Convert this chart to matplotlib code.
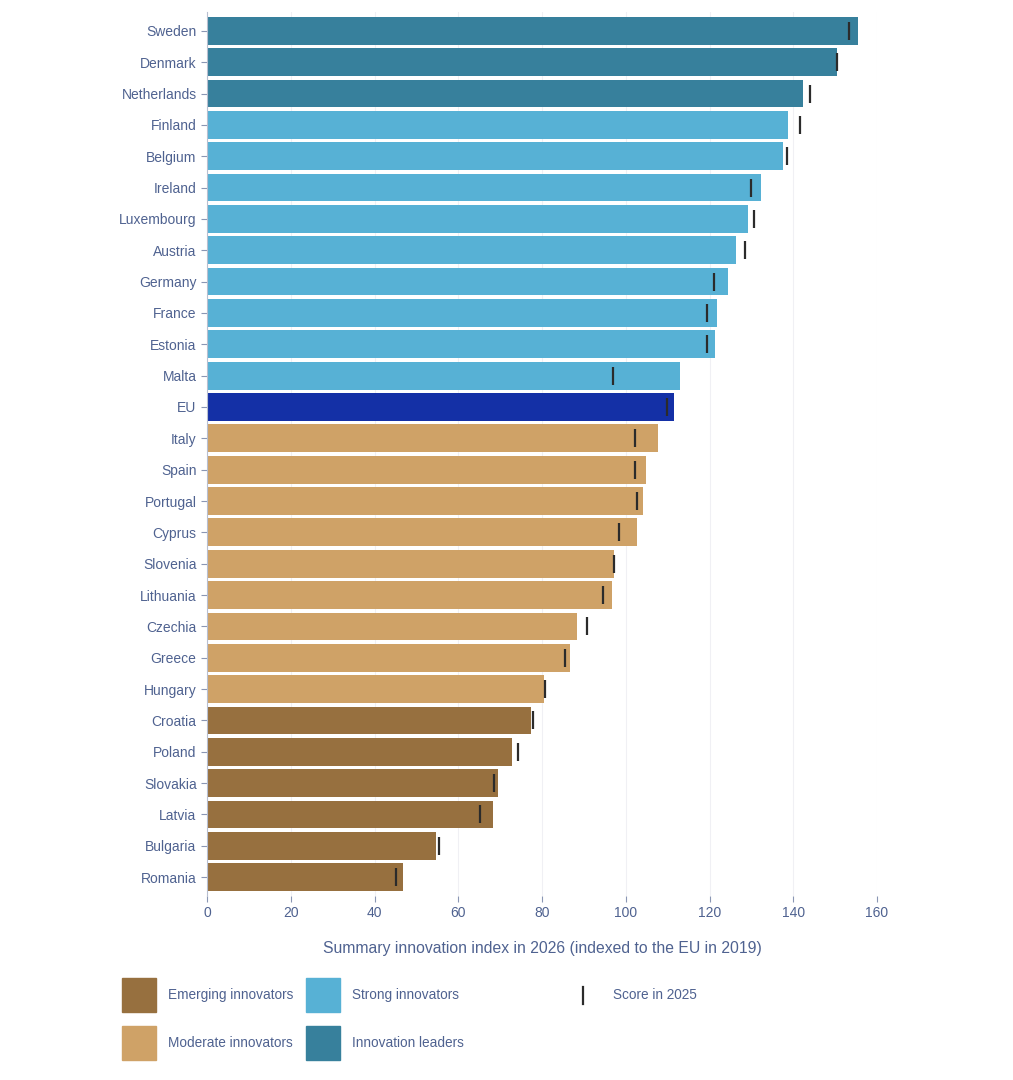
import matplotlib
matplotlib.use('Agg')
import matplotlib.pyplot as plt
from matplotlib.patches import Rectangle
from matplotlib.lines import Line2D

### DATA

countries = ['Sweden', 'Denmark', 'Netherlands', 'Finland', 'Belgium', 'Ireland', 'Luxembourg',
             'Austria', 'Germany', 'France', 'Estonia', 'Malta', 'EU', 'Italy', 'Spain', 'Portugal',
             'Cyprus', 'Slovenia', 'Lithuania', 'Czechia', 'Greece', 'Hungary', 'Croatia', 'Poland',
             'Slovakia', 'Latvia', 'Bulgaria', 'Romania']
score_2026 = [155.4, 150.4, 142.3, 138.8, 137.6, 132.4, 129.3, 126.3, 124.3, 121.8, 121.2, 112.9,
              111.6, 107.6, 104.9, 104.0, 102.8, 97.2, 96.7, 88.4, 86.6, 80.5, 77.4, 72.9,
              69.5, 68.2, 54.6, 46.7]
score_2025 = [153.2, 150.4, 143.9, 141.6, 138.5, 129.9, 130.7, 128.4, 121.1, 119.5, 119.3, 97.0,
              109.8, 102.3, 102.1, 102.6, 98.5, 97.2, 94.6, 90.7, 85.6, 80.7, 77.9, 74.3,
              68.5, 65.2, 55.5, 45.2]
groups = ['leader'] * 3 + ['strong'] * 9 + ['eu'] + ['moderate'] * 9 + ['emerging'] * 6

group_colors = {'leader': '#37809c', 'strong': '#57b1d5', 'eu': '#1430a6',
                'moderate': '#cfa267', 'emerging': '#97703f'}
legend_items = [('Emerging innovators', 'emerging'), ('Moderate innovators', 'moderate'),
                ('Strong innovators', 'strong'), ('Innovation leaders', 'leader')]

txt = '#4f6290'
plt.rcParams['font.family'] = ['Liberation Sans', 'DejaVu Sans']

W, H = 1013, 1080
fig = plt.figure(figsize=(W / 100, H / 100), dpi=100)
ax = fig.add_axes([207 / W, 1 - 896 / H, 670 / W, 884 / H])

ypos = list(range(len(countries)))
ax.barh(ypos, score_2026, height=0.885, color=[group_colors[g] for g in groups], zorder=2)
ax.plot(score_2025, ypos, linestyle='none', marker='|', markersize=12.5,
        markeredgewidth=1.6, color='#2b2b2b', zorder=3)  # score in 2025

ax.set_xlim(0, 160)
ax.set_ylim(27.6, -0.6)
ax.set_yticks(ypos)
ax.set_yticklabels(countries)
ax.set_xticks(range(0, 161, 20))
ax.grid(axis='x', color='#f0f0f4', linewidth=0.8, zorder=0)
ax.tick_params(axis='y', length=4.5, width=0.8, color='#8a96b4', pad=3, labelsize=10, labelcolor=txt)
ax.tick_params(axis='x', length=4, width=0.8, color='#8a96b4', pad=3, labelsize=10, labelcolor=txt)
for s in ['top', 'right', 'bottom']:
    ax.spines[s].set_visible(False)
ax.spines['left'].set_color('#b8bfd0')
ax.spines['left'].set_linewidth(0.8)
ax.set_xlabel('Summary innovation index in 2026 (indexed to the EU in 2019)',
              fontsize=11.3, color=txt, labelpad=15)

### LEGEND

sq = 34
boxes = [(122, 978), (122, 1026), (306, 978), (306, 1026)]
for (label, g), (x0, y0) in zip(legend_items, boxes):
    fig.add_artist(Rectangle((x0 / W, 1 - (y0 + sq) / H), sq / W, sq / H,
                             transform=fig.transFigure, color=group_colors[g]))
    fig.text((x0 + 46) / W, 1 - (y0 + sq / 2) / H, label, fontsize=9.8, color=txt, va='center')
fig.add_artist(Line2D([583 / W, 583 / W], [1 - 987 / H, 1 - 1004 / H],
                      transform=fig.transFigure, color='#2b2b2b', linewidth=1.6))
fig.text(613 / W, 1 - 995 / H, 'Score in 2025', fontsize=9.8, color=txt, va='center')

fig.savefig('out.png', dpi=100, facecolor='white')
